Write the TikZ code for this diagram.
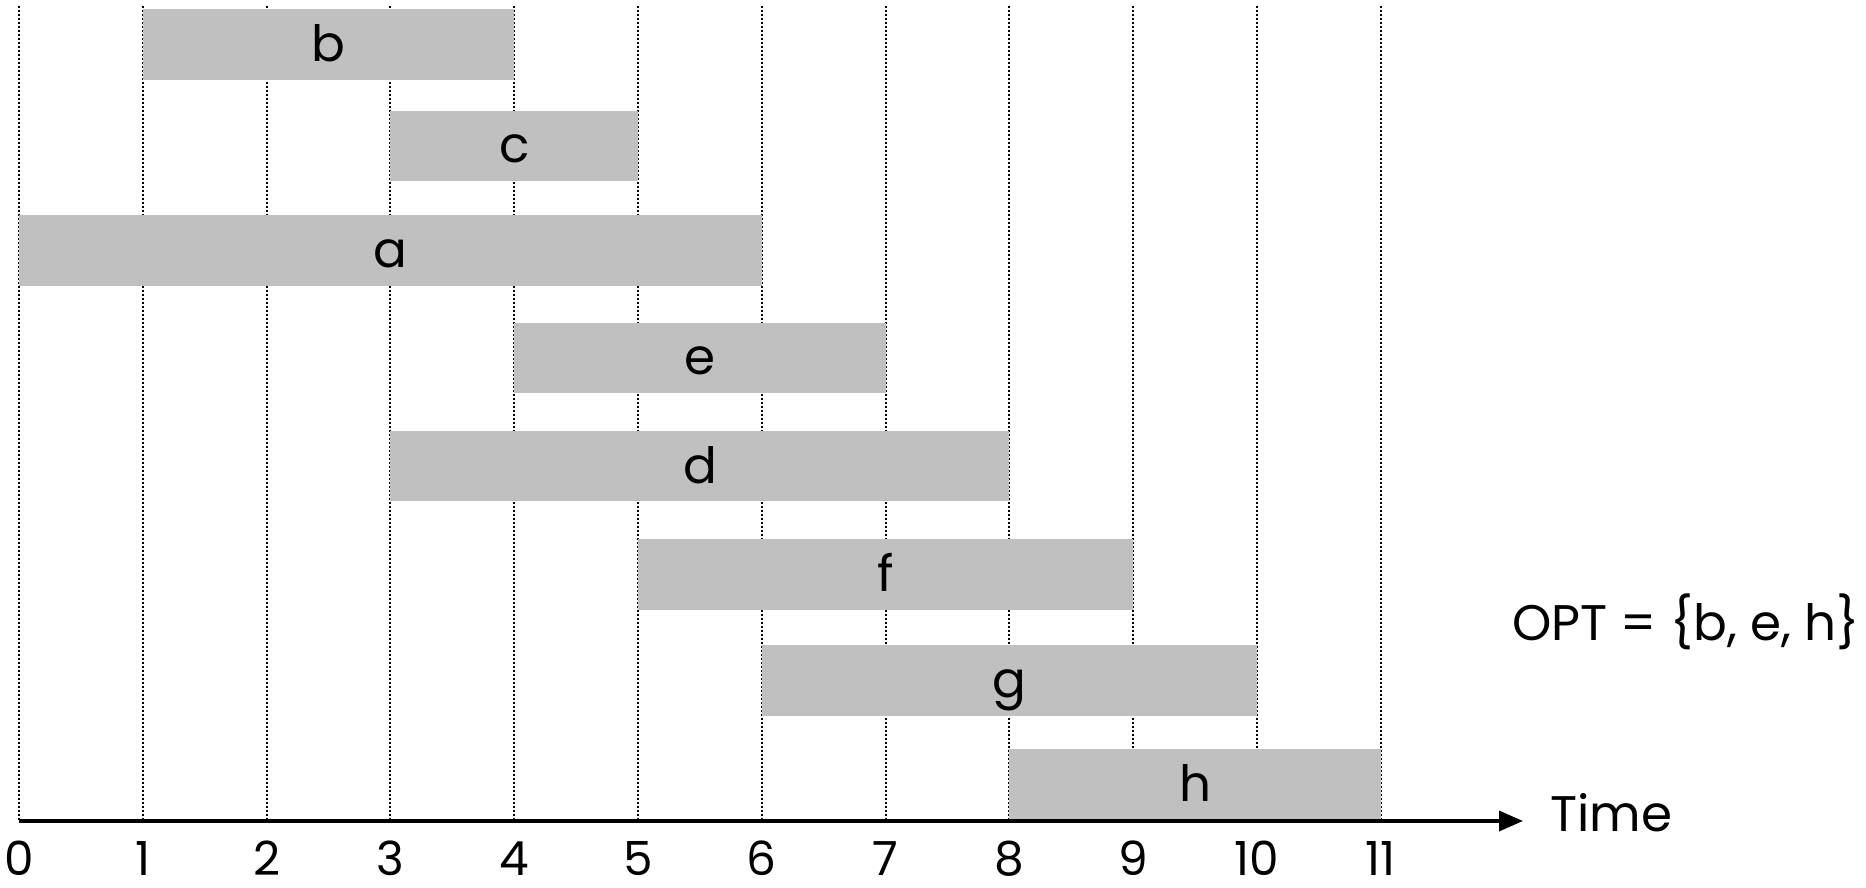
\documentclass[tikz,border=0pt]{standalone}
\usepackage{fontspec}
\setmainfont{Poppins}
\usetikzlibrary{arrows.meta}
\definecolor{bargray}{RGB}{192,192,192}
\begin{document}
\begin{tikzpicture}[x=1pt,y=-1pt,
  font=\fontsize{50}{56}\selectfont,
  gridline/.style={line width=2pt, dash pattern=on 2pt off 2pt},
  bar/.style={fill=bargray, inner sep=0pt, minimum height=70.5pt, text height=40pt, text depth=6pt},
  axisline/.style={line width=3.5pt, -{Triangle[length=24pt,width=20pt]}},
  lbl/.style={inner sep=0pt, anchor=base},
  ticklbl/.style={inner sep=0pt, anchor=base, font=\fontsize{47}{52}\selectfont}]
\useasboundingbox (0,0) rectangle (1866,888);
\def\ux{123.8}
\def\xo{19}
% grid lines
\foreach \k in {0,...,11}
  \draw[gridline] ({\xo+\ux*\k},6) -- ({\xo+\ux*\k},821);
% bars
\foreach \nm/\s/\e/\t in {b/1/4/9.5, c/3/5/110.7, a/0/6/215.4, e/4/7/322.5, d/3/8/430.8, f/5/9/539, g/6/10/645, h/8/11/749}
  \node[bar, minimum width={\ux*(\e-\s)*1pt}] (\nm) at ({\xo+\ux*(\s+\e)/2},{\t+35.25}) {\nm};
% axis
\coordinate (origin) at (\xo,821);
\coordinate (tip) at (1523,821);
\draw[axisline] (origin) -- (tip);
\node[lbl, anchor=base west] (time) at (1550,831) {Time};
% tick labels
\foreach \k in {0,...,11}
  \node[ticklbl] (t\k) at ({\xo+\ux*\k},875) {\k};
\node[lbl] (opt) at (1686,640) {OPT = \{b, e, h\}};
\end{tikzpicture}
\end{document}
